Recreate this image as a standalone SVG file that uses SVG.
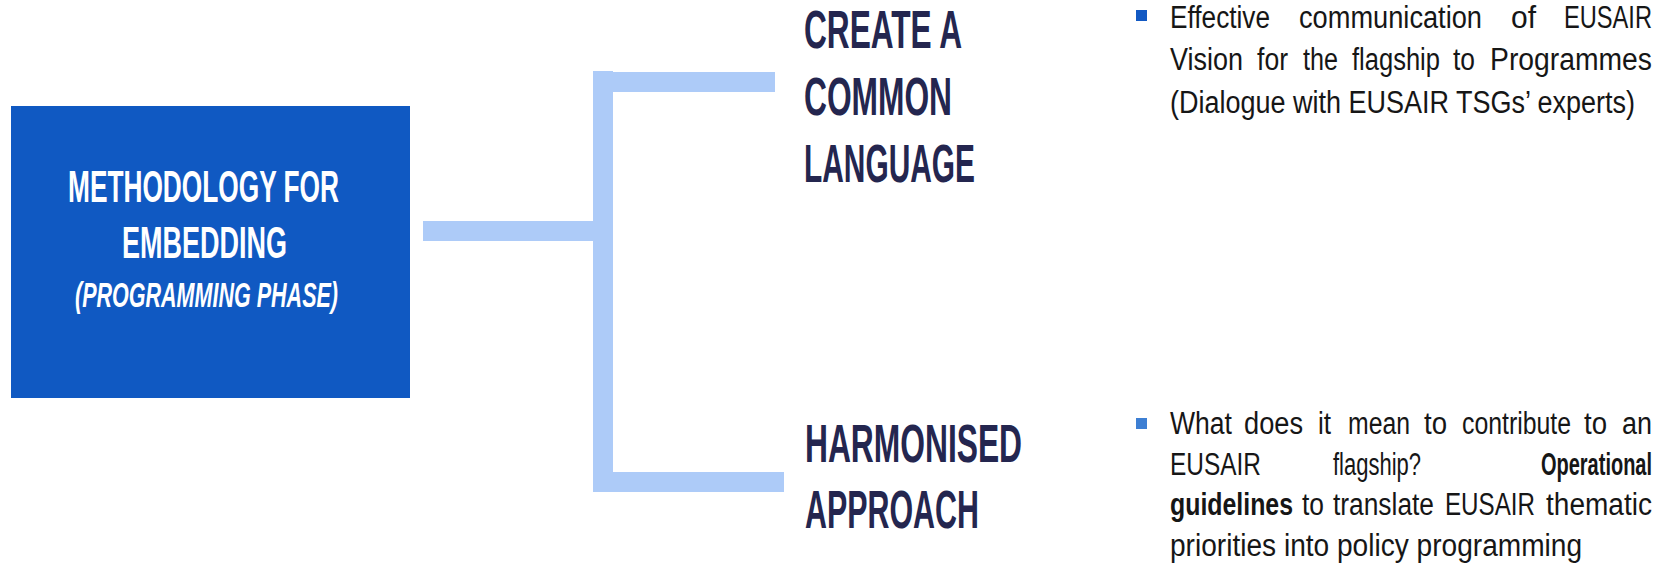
<svg xmlns="http://www.w3.org/2000/svg" width="1672" height="565" viewBox="0 0 1672 565">
<style>
.bg{fill:#ffffff}
.box{fill:#1059C2}
.conn{fill:#ADCBF8}
.head{font-family:"Liberation Sans Narrow","Liberation Sans",Arial,sans-serif;font-weight:bold;fill:#24264F;font-size:53px}
.boxt{font-family:"Liberation Sans Narrow","Liberation Sans",Arial,sans-serif;font-weight:bold;fill:#ffffff}
.body{font-family:"Liberation Sans Narrow","Liberation Sans",Arial,sans-serif;fill:#161616;font-size:31px}
.b{font-weight:bold}
</style>
<rect class="bg" x="0" y="0" width="1672" height="565"/>
<g id="connectors">
<rect class="conn" x="423" y="221" width="170" height="20"/>
<rect class="conn" x="593" y="71" width="20" height="421"/>
<rect class="conn" x="613" y="72" width="162" height="20"/>
<rect class="conn" x="613" y="472" width="171" height="20"/>
</g>
<g id="node-methodology">
<rect class="box" x="11" y="106" width="399" height="292"/>
<text class="boxt" x="68" y="202" font-size="45" textLength="271" lengthAdjust="spacingAndGlyphs">METHODOLOGY FOR</text>
<text class="boxt" x="122" y="258" font-size="45" textLength="165" lengthAdjust="spacingAndGlyphs">EMBEDDING</text>
<text class="boxt" x="75" y="307" font-size="35" font-style="italic" textLength="263" lengthAdjust="spacingAndGlyphs">(PROGRAMMING PHASE)</text>
</g>
<g id="node-common-language">
<text class="head" x="804" y="48" textLength="158" lengthAdjust="spacingAndGlyphs">CREATE A</text>
<text class="head" x="804" y="115" textLength="148" lengthAdjust="spacingAndGlyphs">COMMON</text>
<text class="head" x="804" y="182" textLength="171" lengthAdjust="spacingAndGlyphs">LANGUAGE</text>
</g>
<g id="node-harmonised">
<text class="head" x="805" y="462" textLength="217" lengthAdjust="spacingAndGlyphs">HARMONISED</text>
<text class="head" x="805" y="528" textLength="174" lengthAdjust="spacingAndGlyphs">APPROACH</text>
</g>
<g id="node-bullet1">
<rect x="1136" y="10" width="11" height="11" fill="#1259C3"/>
<text class="body" y="27.5">
<tspan x="1170" textLength="100" lengthAdjust="spacingAndGlyphs">Effective</tspan>
<tspan x="1299" textLength="183" lengthAdjust="spacingAndGlyphs">communication</tspan>
<tspan x="1511" textLength="25" lengthAdjust="spacingAndGlyphs">of</tspan>
<tspan x="1564" textLength="88" lengthAdjust="spacingAndGlyphs">EUSAIR</tspan>
</text>
<text class="body" y="70">
<tspan x="1170" textLength="73" lengthAdjust="spacingAndGlyphs">Vision</tspan>
<tspan x="1257" textLength="31" lengthAdjust="spacingAndGlyphs">for</tspan>
<tspan x="1303" textLength="35" lengthAdjust="spacingAndGlyphs">the</tspan>
<tspan x="1352" textLength="88" lengthAdjust="spacingAndGlyphs">flagship</tspan>
<tspan x="1453" textLength="22" lengthAdjust="spacingAndGlyphs">to</tspan>
<tspan x="1490" textLength="162" lengthAdjust="spacingAndGlyphs">Programmes</tspan>
</text>
<text class="body" x="1170" y="113" textLength="465" lengthAdjust="spacingAndGlyphs">(Dialogue with EUSAIR TSGs’ experts)</text>
</g>
<g id="node-bullet2">
<rect x="1136" y="418" width="11" height="11" fill="#3D7FD3"/>
<text class="body" y="434">
<tspan x="1170" textLength="62" lengthAdjust="spacingAndGlyphs">What</tspan>
<tspan x="1244" textLength="59" lengthAdjust="spacingAndGlyphs">does</tspan>
<tspan x="1318" textLength="13" lengthAdjust="spacingAndGlyphs">it</tspan>
<tspan x="1348" textLength="62" lengthAdjust="spacingAndGlyphs">mean</tspan>
<tspan x="1424" textLength="23" lengthAdjust="spacingAndGlyphs">to</tspan>
<tspan x="1462" textLength="109" lengthAdjust="spacingAndGlyphs">contribute</tspan>
<tspan x="1584" textLength="23" lengthAdjust="spacingAndGlyphs">to</tspan>
<tspan x="1622" textLength="30" lengthAdjust="spacingAndGlyphs">an</tspan>
</text>
<text class="body" y="474.5">
<tspan x="1170" textLength="91" lengthAdjust="spacingAndGlyphs">EUSAIR</tspan>
<tspan x="1333" textLength="88" lengthAdjust="spacingAndGlyphs">flagship?</tspan>
<tspan class="b" x="1541" textLength="111" lengthAdjust="spacingAndGlyphs">Operational</tspan>
</text>
<text class="body" y="515">
<tspan class="b" x="1170" textLength="123" lengthAdjust="spacingAndGlyphs">guidelines</tspan>
<tspan x="1302" textLength="22" lengthAdjust="spacingAndGlyphs">to</tspan>
<tspan x="1333" textLength="101" lengthAdjust="spacingAndGlyphs">translate</tspan>
<tspan x="1445" textLength="90" lengthAdjust="spacingAndGlyphs">EUSAIR</tspan>
<tspan x="1546" textLength="106" lengthAdjust="spacingAndGlyphs">thematic</tspan>
</text>
<text class="body" x="1170" y="555.5" textLength="412" lengthAdjust="spacingAndGlyphs">priorities into policy programming</text>
</g>
</svg>
